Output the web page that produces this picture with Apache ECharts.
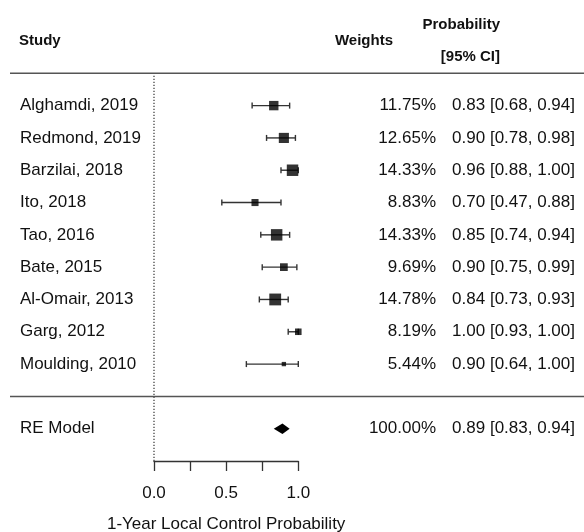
<!DOCTYPE html>
<html>
<head>
<meta charset="utf-8">
<script src="https://cdn.jsdelivr.net/npm/echarts@6/dist/echarts.min.js"></script>
<style>html,body{margin:0;padding:0;background:#fff;}#chart{width:584px;height:532px;}</style>
</head>
<body>
<div id="chart"></div>
<script>
const studies = ['Alghamdi, 2019', 'Redmond, 2019', 'Barzilai, 2018', 'Ito, 2018', 'Tao, 2016', 'Bate, 2015', 'Al-Omair, 2013', 'Garg, 2012', 'Moulding, 2010'];
const weights = [11.75, 12.65, 14.33, 8.83, 14.33, 9.69, 14.78, 8.19, 5.44];
const estimates = [0.83, 0.90, 0.96, 0.70, 0.85, 0.90, 0.84, 1.00, 0.90];
const lowers = [0.68, 0.78, 0.88, 0.47, 0.74, 0.75, 0.73, 0.93, 0.64];
const uppers = [0.94, 0.98, 1.00, 0.88, 0.94, 0.99, 0.93, 1.00, 1.00];
const reLabel = 'RE Model';
const reWeight = 100.00;
const reEstimate = 0.89;
const reLower = 0.83;
const reUpper = 0.94;
const xTicks = [0, 0.25, 0.5, 0.75, 1.0];
const tickLabels = ['0.0', '', '0.5', '', '1.0'];
const xTitle = '1-Year Local Control Probability';

const FONT = "'Liberation Sans', Arial, Helvetica, sans-serif";
const FS = 17;
const HFS = 15;
const TXT = '#111';
const LINE = '#333';

const k = studies.length;
const rows = studies.map((_, i) => k - i);   // 9..1
const reRow = -1;
const fmt = v => v.toFixed(2);
const ciText = (e, l, u) => fmt(e) + ' [' + fmt(l) + ', ' + fmt(u) + ']';

// text table: [row, text, pixelX, align, bold]
const textItems = [];
studies.forEach((s, i) => {
  textItems.push([rows[i], s, 20, 'left', 0]);
  textItems.push([rows[i], fmt(weights[i]) + '%', 436, 'right', 0]);
  textItems.push([rows[i], ciText(estimates[i], lowers[i], uppers[i]), 575, 'right', 0]);
});
textItems.push([reRow, reLabel, 20, 'left', 0]);
textItems.push([reRow, fmt(reWeight) + '%', 436, 'right', 0]);
textItems.push([reRow, ciText(reEstimate, reLower, reUpper), 575, 'right', 0]);
textItems.push([k + 2, 'Study', 19, 'left', 1]);
textItems.push([k + 2, 'Weights', 393, 'right', 1]);
textItems.push([k + 2.5, 'Probability', 500, 'right', 1]);
textItems.push([k + 1.5, '[95% CI]', 500, 'right', 1]);

const chart = echarts.init(document.getElementById('chart'), null, {renderer: 'canvas'});

const option = {
  animation: false,
  backgroundColor: '#fff',
  grid: {left: 154, width: 144.3, top: 41, bottom: 71, containLabel: false, outerBoundsMode: 'none'},
  xAxis: {
    type: 'value', min: 0, max: 1, interval: 0.25,
    axisLine: {show: true, onZero: false, lineStyle: {color: LINE, width: 1.3}},
    axisTick: {show: true, inside: false, length: 10, lineStyle: {color: LINE, width: 1.3}},
    axisLabel: {
      margin: 24, fontSize: FS, fontFamily: FONT, color: TXT,
      formatter: v => { const i = xTicks.findIndex(t => Math.abs(t - v) < 1e-9); return i >= 0 ? tickLabels[i] : ''; }
    },
    splitLine: {show: false},
    name: xTitle, nameLocation: 'middle', nameGap: 55,
    nameTextStyle: {fontSize: FS, fontFamily: FONT, color: TXT}
  },
  yAxis: {type: 'value', min: -2, max: k + 2, show: false},
  series: [
    {
      type: 'line', name: 'ref', data: [[0, -2], [0, k + 1]], symbol: 'none',
      lineStyle: {color: LINE, width: 1.2, type: [1.2, 1.8]}, silent: true, z: 1
    },
    {
      type: 'custom', name: 'rules', clip: false, silent: true, z: 2,
      data: [[0, k + 1], [0, 0]],
      renderItem: (params, api) => {
        const y = api.coord([0, api.value(1)])[1];
        return {type: 'line', shape: {x1: 10, y1: y, x2: 584, y2: y}, style: {stroke: '#555', lineWidth: 1.5}};
      }
    },
    {
      type: 'custom', name: 'ci', silent: true, z: 3,
      data: studies.map((_, i) => [lowers[i], uppers[i], rows[i]]),
      encode: {x: [0, 1], y: 2},
      renderItem: (params, api) => {
        const p1 = api.coord([api.value(0), api.value(2)]);
        const p2 = api.coord([api.value(1), api.value(2)]);
        const st = {stroke: LINE, lineWidth: 1.4};
        return {type: 'group', children: [
          {type: 'line', shape: {x1: p1[0], y1: p1[1], x2: p2[0], y2: p2[1]}, style: st},
          {type: 'line', shape: {x1: p1[0], y1: p1[1] - 3, x2: p1[0], y2: p1[1] + 3}, style: st},
          {type: 'line', shape: {x1: p2[0], y1: p2[1] - 3, x2: p2[0], y2: p2[1] + 3}, style: st}
        ]};
      }
    },
    {
      type: 'scatter', name: 'est', symbol: 'rect', silent: true, z: 4,
      data: studies.map((_, i) => [estimates[i], rows[i], weights[i]]),
      symbolSize: v => v[2] * 0.8,
      itemStyle: {color: '#000'}
    },
    {
      type: 'custom', name: 'diamond', silent: true, z: 4,
      data: [[reEstimate, reLower, reUpper, reRow]],
      encode: {x: [0, 1, 2], y: 3},
      renderItem: (params, api) => {
        const c = api.coord([api.value(0), api.value(3)]);
        const l = api.coord([api.value(1), api.value(3)]);
        const u = api.coord([api.value(2), api.value(3)]);
        return {type: 'polygon', shape: {points: [[l[0], l[1]], [c[0], c[1] - 5.3], [u[0], u[1]], [c[0], c[1] + 5.3]]}, style: {fill: '#000'}};
      }
    },
    {
      type: 'custom', name: 'text', clip: false, silent: true, z: 5,
      data: textItems.map(t => [0, t[0]]),
      encode: {x: 0, y: 1},
      renderItem: (params, api) => {
        const t = textItems[params.dataIndex];
        const y = api.coord([0, api.value(1)])[1];
        return {type: 'text', x: t[2], y: y, style: {
          text: t[1], fill: TXT, fontSize: t[4] ? HFS : FS, fontFamily: FONT, fontWeight: t[4] ? 'bold' : 'normal',
          align: t[3], verticalAlign: 'middle'
        }};
      }
    }
  ]
};
chart.setOption(option);
</script>
</body>
</html>
